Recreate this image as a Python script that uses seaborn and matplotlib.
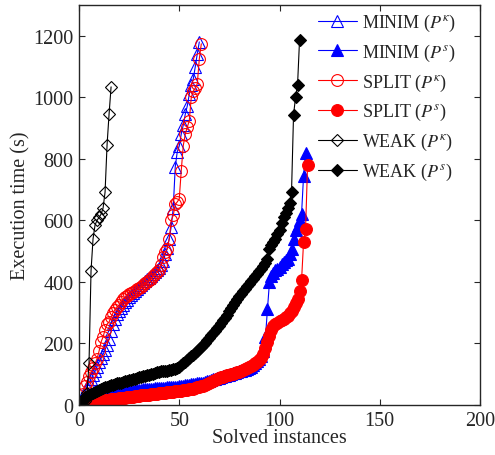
import matplotlib
matplotlib.use("Agg")
import numpy as np
import pandas as pd
import seaborn as sns
from matplotlib import pyplot as plt

# sorted execution times (s) per solved instance
minim_pk = [5, 25, 45, 60, 72, 85, 98, 110, 125, 140, 152, 165, 180, 195, 215, 240, 262, 280, 295, 305,
            315, 325, 335, 342, 350, 358, 365, 372, 378, 385, 390, 396, 402, 408, 414, 420, 426, 432, 438, 445,
            455, 468, 490, 510, 540, 580, 640, 774, 823, 842, 881, 910, 945, 972, 1010, 1040, 1060, 1100, 1142, 1180]
minim_ps = [2, 5, 8, 11, 14, 17, 19, 21, 23, 25, 27, 29, 31, 33, 35, 36, 38, 39, 40, 41,
            42, 43, 44, 45, 46, 47, 47, 48, 49, 50, 50, 51, 51, 52, 52, 53, 53, 54, 54, 55,
            55, 56, 56, 57, 57, 58, 58, 59, 60, 61, 62, 63, 64, 65, 66, 67, 68, 69, 70, 71,
            72, 73, 75, 77, 79, 81, 83, 85, 87, 89, 91, 93, 95, 97, 99, 101, 103, 105, 107, 109,
            111, 113, 115, 118, 121, 125, 130, 136, 142, 150, 160, 175, 221, 312, 400, 420, 430, 438, 442, 450,
            458, 465, 470, 475, 490, 507, 540, 570, 582, 600, 621, 745, 820]
split_pk = [8, 35, 62, 75, 95, 107, 120, 135, 150, 175, 205, 221, 245, 263, 270, 285, 300, 310, 318, 325,
            335, 345, 350, 355, 360, 365, 368, 372, 376, 380, 385, 390, 395, 400, 405, 410, 418, 425, 432, 440,
            455, 480, 497, 507, 540, 600, 616, 652, 660, 670, 762, 843, 880, 903, 924, 1000, 1020, 1030, 1044, 1125,
            1174]
split_ps = [1, 3, 5, 6, 7, 8, 9, 10, 11, 12, 13, 14, 15, 16, 17, 18, 19, 20, 21, 22,
            23, 23, 24, 25, 26, 27, 27, 28, 29, 30, 31, 31, 32, 33, 34, 35, 35, 36, 37, 38,
            39, 39, 40, 41, 42, 43, 43, 44, 45, 46, 47, 48, 49, 50, 51, 52, 53, 55, 57, 59,
            61, 63, 66, 68, 71, 74, 78, 81, 84, 87, 90, 92, 94, 96, 98, 100, 102, 104, 106, 108,
            111, 114, 117, 120, 123, 126, 130, 135, 140, 146, 152, 165, 185, 205, 225, 245, 257, 263, 268, 272,
            276, 280, 285, 290, 298, 307, 318, 332, 345, 370, 405, 530, 572, 780]
weak_pk = [2, 5, 12, 40, 137, 436, 540, 585, 600, 610, 620, 640, 692, 846, 946, 1034]
weak_ps = [5, 15, 25, 30, 34, 37, 40, 43, 46, 48, 51, 54, 57, 60, 62, 64, 66, 68, 70, 72,
           73, 75, 77, 78, 80, 82, 84, 86, 88, 90, 91, 93, 95, 97, 98, 100, 102, 104, 106, 108,
           109, 110, 111, 112, 113, 114, 116, 118, 121, 125, 130, 135, 140, 146, 152, 158, 164, 170, 176, 182,
           188, 195, 202, 210, 218, 226, 234, 242, 250, 258, 266, 275, 284, 294, 305, 315, 325, 335, 345, 354,
           362, 370, 378, 386, 394, 402, 410, 418, 426, 434, 442, 452, 462, 475, 507, 520, 530, 540, 556, 570,
           590, 610, 625, 640, 655, 693, 943, 1000, 1040, 1187]

series = [
    (r"MINIM ($P^{\kappa}$)", minim_pk, "#0000ff", "^", "none", 8),
    (r"MINIM ($P^{s}$)", minim_ps, "#0000ff", "^", "#0000ff", 8),
    (r"SPLIT ($P^{\kappa}$)", split_pk, "#ff0000", "o", "none", 8.5),
    (r"SPLIT ($P^{s}$)", split_ps, "#ff0000", "o", "#ff0000", 8.5),
    (r"WEAK ($P^{\kappa}$)", weak_pk, "black", "D", "none", 5.8),
    (r"WEAK ($P^{s}$)", weak_ps, "black", "D", "black", 5.8),
]

sns.set_style("ticks")
plt.rcParams["font.family"] = ["Liberation Serif", "DejaVu Serif"]
plt.rcParams["mathtext.fontset"] = "stix"

fig = plt.figure(figsize=(4.95, 4.56), dpi=100)
ax = fig.add_axes([0.1596, 0.1096, 0.8101, 0.8772])

for label, times, color, marker, face, ms in series:
    df = pd.DataFrame({"solved": np.arange(1, len(times) + 1), "time": times})
    sns.lineplot(data=df, x="solved", y="time", ax=ax, color=color, marker=marker,
                 markerfacecolor=face, markeredgecolor=color, markersize=ms, markeredgewidth=0.8,
                 linewidth=0.8, label=label, sort=False)

ax.set_xlim(0, 200)
ax.set_ylim(0, 1300)
ax.set_xticks([0, 50, 100, 150, 200])
ax.set_yticks([0, 200, 400, 600, 800, 1000, 1200])
ax.tick_params(direction="in", top=True, right=True, length=4, width=0.8, labelsize=14.5, pad=4)
for sp in ax.spines.values():
    sp.set_linewidth(1.0)
ax.set_xlabel("Solved instances", fontsize=14.5, labelpad=-1)
ax.set_ylabel("Execution time (s)", fontsize=14.5, labelpad=2)

ax.legend(loc="upper left", frameon=False, fontsize=13, handlelength=2.15, labelspacing=0.48,
          borderaxespad=0, borderpad=0, handletextpad=0.3, bbox_to_anchor=(0.596, 0.983))

fig.savefig("out.png", dpi=100)
